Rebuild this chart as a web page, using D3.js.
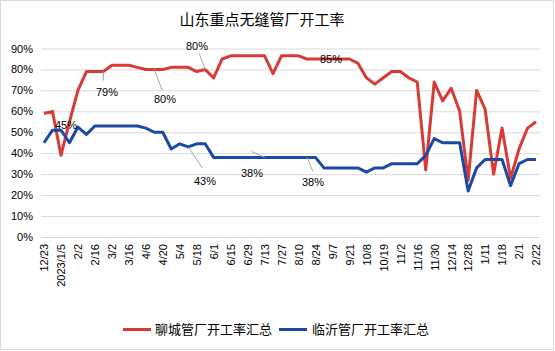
<!DOCTYPE html>
<html><head><meta charset="utf-8">
<script src="https://cdn.jsdelivr.net/npm/d3@7"></script>
<style>body{margin:0;background:#fff}svg{display:block}</style>
</head><body>
<script>
const title = "山东重点无缝管厂开工率";
const categories = ["12/23","12/29","2023/1/5","1/12","2/2","2/9","2/16","2/23","3/2","3/9","3/16","3/23","4/6","4/13","4/20","4/27","5/4","5/11","5/18","5/25","6/1","6/8","6/15","6/21","6/29","7/6","7/13","7/20","7/27","8/3","8/10","8/17","8/24","8/31","9/7","9/14","9/21","9/28","10/8","10/12","10/19","10/26","11/2","11/9","11/16","11/23","11/30","12/7","12/14","12/21","12/28","1/4","1/11","1/15","1/18","1/25","2/1","2/8","2/22"];
const seriesNames = ["聊城管厂开工率汇总","临沂管厂开工率汇总"];
const liaocheng = [59,60,39,55,70,79,79,79,82,82,82,81,80,80,80,81,81,81,79,80,76,85,86.5,86.5,86.5,86.5,86.5,78,86.5,86.5,86.5,85,85,85,85,85,85,83,76,73,76,79,79,76,74,32,74,65,71,60,27,70,61,30,52,28,42,52,55];
const linyi = [45,51,51,45,52.5,49,53,53,53,53,53,53,52,50,50,42,44.5,43,44.5,44.5,38,38,38,38,38,38,38,38,38,38,38,38,38,33,33,33,33,33,31,33,33,35,35,35,35,39,47,45,45,45,22,33,37,37,37,24.5,35,37,37];
const yTicks = [0,10,20,30,40,50,60,70,80,90];
// data labels: [series index, category index, text]
const dataLabels = [[0,7,"79%"],[0,13,"80%"],[0,19,"80%"],[0,34,"85%"],[1,0,"45%"],[1,17,"43%"],[1,26,"38%"],[1,31,"38%"]];

const W=555,H=351;
const svg=d3.select("body").append("svg").attr("width",W).attr("height",H);
svg.append("rect").attr("x",0.5).attr("y",0.5).attr("width",W-2).attr("height",H-2)
  .attr("fill","#fff").attr("stroke","#d9d9d9");

const x=d3.scalePoint().domain(categories).range([44,536]);
const y=d3.scaleLinear().domain([0,90]).range([237,48.5]);
const colors=["#d83b36","#1b49a6"];
const numFont="'Liberation Sans', Arial, sans-serif";
const cjkFont="'Noto Sans CJK SC', sans-serif";

svg.append("text").attr("x",262).attr("y",25).attr("text-anchor","middle")
  .attr("font-family",cjkFont).attr("font-size",15).attr("fill","#000").text(title);

// grid + y axis
const yAxis=svg.append("g").attr("transform","translate(41,0)")
  .call(d3.axisLeft(y).tickValues(yTicks).tickSize(-499).tickFormat(d=>d+"%").tickPadding(8));
yAxis.select(".domain").remove();
yAxis.selectAll("line").attr("stroke","#d9d9d9");
yAxis.selectAll("text").attr("font-family",numFont).attr("font-size",11).attr("fill","#000");

// x axis labels
const xAxis=svg.append("g").attr("transform","translate(0,237)")
  .call(d3.axisBottom(x).tickValues(categories.filter((d,i)=>i%2===0)).tickSize(0));
xAxis.select(".domain").remove();
xAxis.selectAll("text").attr("font-family",numFont).attr("font-size",11).attr("fill","#000")
  .attr("transform","rotate(-90)").attr("text-anchor","end").attr("x",-7).attr("y",0).attr("dy","0.35em");

const line=d3.line().x((d,i)=>x(categories[i])).y(d=>y(d));
[liaocheng,linyi].forEach((s,k)=>{
  svg.append("path").datum(s).attr("d",line).attr("fill","none").attr("stroke",colors[k])
    .attr("stroke-width",3).attr("stroke-linejoin","round");
});

// data labels with leaders
const labelPos={ "0-7":[107,96,[0,9]], "0-13":[165,103,[8,21]], "0-19":[197,50,[-6,-16]], "0-34":[331,63,null],
  "1-0":[66,129,null], "1-17":[205,185,[14,21]], "1-26":[252,177,[-13,-6]], "1-31":[313,186,[6,14]] };
const series=[liaocheng,linyi];
dataLabels.forEach(([s,i,t])=>{
  const p=labelPos[s+"-"+i];
  const px=x(categories[i]), py=y(series[s][i]);
  if(p[2]){
    svg.append("line").attr("x1",px).attr("y1",py).attr("x2",px+p[2][0]).attr("y2",py+p[2][1])
      .attr("stroke","#a6a6a6").attr("stroke-width",1);
  }
  svg.append("text").attr("x",p[0]).attr("y",p[1]).attr("text-anchor","middle")
    .attr("font-family",numFont).attr("font-size",11).attr("fill","#000").text(t);
});

// legend
const legend=[[123,155],[279,312]];
seriesNames.forEach((n,k)=>{
  svg.append("line").attr("x1",legend[k][0]).attr("x2",legend[k][0]+28).attr("y1",329.5).attr("y2",329.5)
    .attr("stroke",colors[k]).attr("stroke-width",3);
  svg.append("text").attr("x",legend[k][1]).attr("y",334).attr("font-family",cjkFont)
    .attr("font-size",13).attr("fill","#000").text(n);
});
</script>
</body></html>
